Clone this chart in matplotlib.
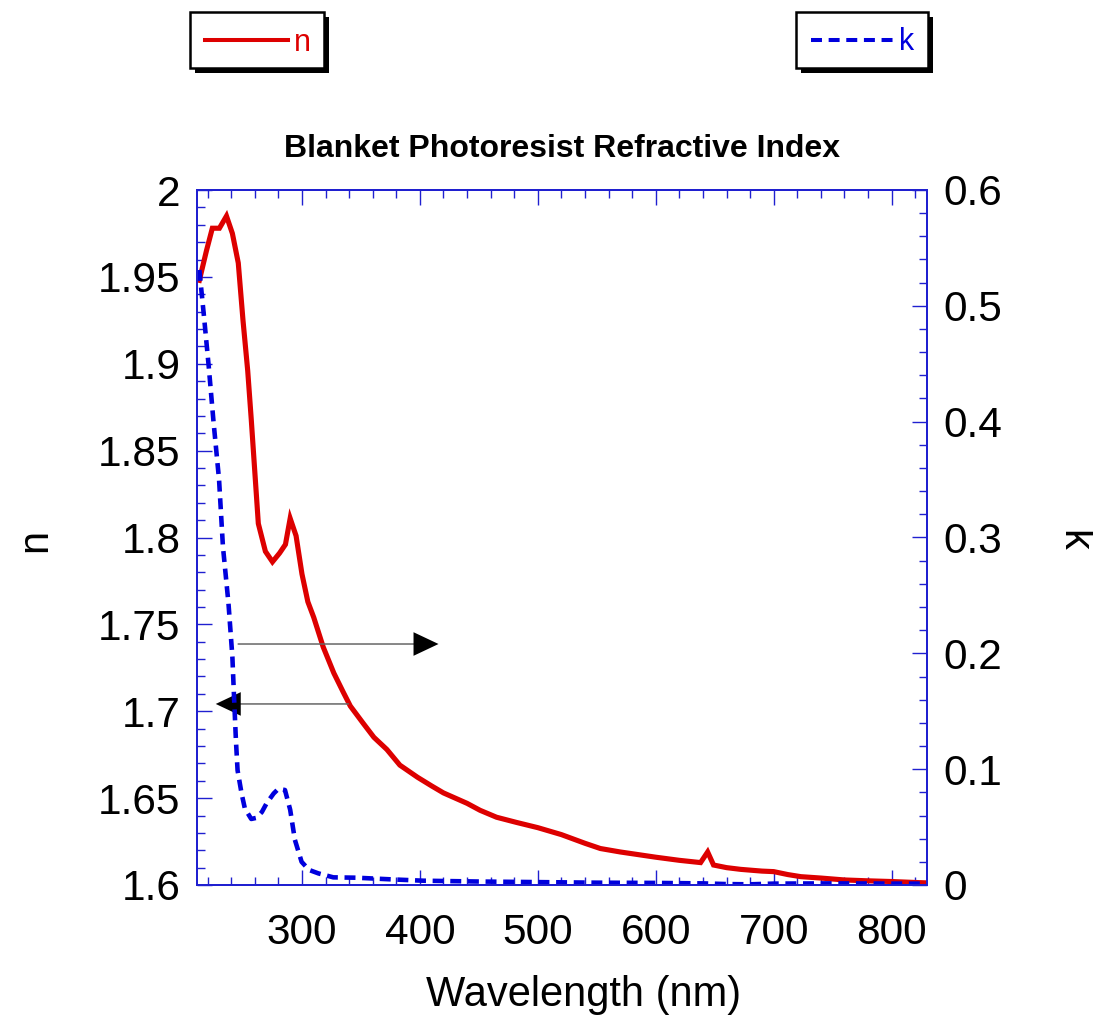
import matplotlib
matplotlib.use("Agg")
import matplotlib.pyplot as plt
from matplotlib.patches import Rectangle, FancyArrowPatch
from matplotlib.lines import Line2D
from matplotlib.ticker import MultipleLocator, FuncFormatter

plt.rcParams.update({"font.family": ["Liberation Sans", "DejaVu Sans"],
                     "lines.scale_dashes": False})

# n (refractive index), left axis
wl_n = [213, 219, 224, 230, 236, 241, 246, 250, 254, 257, 260, 263, 269, 275, 281, 286,
        290, 295, 300, 305, 310, 318, 327, 335, 341, 352, 361, 372, 383, 398, 410, 420,
        430, 440, 451, 465, 482, 500, 520, 540, 553, 570, 585, 600, 620, 638, 644, 649,
        660, 672, 690, 700, 712, 723, 740, 760, 780, 800, 822, 830]
n_val = [1.948, 1.965, 1.978, 1.978, 1.985, 1.975, 1.958, 1.925, 1.896, 1.868, 1.838, 1.808,
         1.792, 1.786, 1.791, 1.796, 1.811, 1.801, 1.779, 1.763, 1.754, 1.737, 1.722, 1.711,
         1.703, 1.693, 1.685, 1.678, 1.669, 1.662, 1.657, 1.653, 1.650, 1.647, 1.643, 1.639,
         1.636, 1.633, 1.629, 1.624, 1.621, 1.619, 1.6175, 1.616, 1.6142, 1.6129, 1.619,
         1.6115, 1.610, 1.609, 1.608, 1.6077, 1.606, 1.6048, 1.604, 1.6029, 1.6024, 1.602,
         1.6014, 1.6012]

# k (extinction coefficient), right axis
wl_k = [213, 217, 221, 225, 229.7, 233, 237.7, 241, 242.5, 244, 245.4, 248.8, 251.6, 257,
        261.5, 266, 270, 276, 280, 285.6, 290, 294, 299.7, 306, 314, 326.6, 346, 375, 403,
        450, 500, 550, 600, 640, 660, 680, 700, 750, 800, 830]
k_val = [0.531, 0.49, 0.447, 0.40, 0.350, 0.292, 0.243, 0.197, 0.160, 0.125, 0.099, 0.079,
         0.066, 0.057, 0.058, 0.063, 0.0705, 0.079, 0.083, 0.082, 0.065, 0.039, 0.020, 0.013,
         0.010, 0.0066, 0.0063, 0.0049, 0.0037, 0.003, 0.0025, 0.002, 0.0018, 0.0014, 0.0008,
         0.0006, 0.0012, 0.0014, 0.0012, 0.0012]

RED, BLUE, AX_C = "#dd0000", "#0000dd", "#2020d0"
W, H = 1093, 1016

fig = plt.figure(figsize=(W / 100, H / 100), dpi=100)
ax = fig.add_axes([197 / W, 1 - 885 / H, 730 / W, 695 / H])
ax2 = ax.twinx()

ax.plot(wl_n, n_val, color=RED, lw=3.7, solid_joinstyle="miter")
ax2.plot(wl_k, k_val, color=BLUE, lw=3.3, dashes=(7.9, 4.8), dash_capstyle="butt")

ax.set_xlim(211, 830)
ax.set_ylim(1.6, 2.0)
ax2.set_ylim(0, 0.6)

ax.xaxis.set_major_locator(MultipleLocator(100))
ax.xaxis.set_minor_locator(MultipleLocator(20))
ax.yaxis.set_major_locator(MultipleLocator(0.05))
ax.yaxis.set_minor_locator(MultipleLocator(0.01))
ax2.yaxis.set_major_locator(MultipleLocator(0.1))
ax2.yaxis.set_minor_locator(MultipleLocator(0.02))
fmt = FuncFormatter(lambda v, p: f"{round(v, 3):g}")
ax.yaxis.set_major_formatter(fmt)
ax2.yaxis.set_major_formatter(fmt)

for a in (ax, ax2):
    for s in a.spines.values():
        s.set_color(AX_C)
        s.set_linewidth(1.4)
ax.tick_params(which="both", direction="in", top=True, right=False, color=AX_C,
               width=1.0, labelsize=30.5, pad=12)
ax.tick_params(which="major", length=10.5)
ax.tick_params(which="minor", length=5.5)
ax.tick_params(axis="x", pad=20)
ax2.tick_params(which="both", direction="in", color=AX_C, width=1.0, labelsize=30.5, pad=12)
ax2.tick_params(which="major", length=10.5)
ax2.tick_params(which="minor", length=5.5)

ax.set_xlabel("Wavelength (nm)", fontsize=30, va="center")
ax.xaxis.set_label_coords(0.53, -0.158)
ax.set_ylabel("n", fontsize=30, rotation=90, va="center", ha="center")
ax.yaxis.set_label_coords(-0.222, 0.496)
ax2.set_ylabel("k", fontsize=30, rotation=-90, va="center", ha="center")
ax2.yaxis.set_label_coords(1.2, 0.496)
ax.set_title("Blanket Photoresist Refractive Index", fontsize=23, fontweight="bold",
             pad=24)

# arrows pointing to each curve's axis: thin gray shaft, black triangular head
HEAD = 21  # head length in nm
for (x0, x1, y) in [(245.9, 415.8, 1.7387), (339.3, 226.9, 1.7042)]:
    d = 1 if x1 > x0 else -1
    ax.add_patch(FancyArrowPatch((x0, y), (x1 - d * HEAD * 0.8, y), arrowstyle="-",
                 lw=1.1, color="#666666", shrinkA=0, shrinkB=0, zorder=3))
    ax.add_patch(FancyArrowPatch((x1 - d * HEAD, y), (x1, y),
                 arrowstyle="-|>,head_length=18,head_width=8.5",
                 mutation_scale=1, lw=0, color="black", shrinkA=0, shrinkB=0, zorder=3))


def fx(x):
    return x / W


def fy(y):
    return 1 - y / H


def legend_box(x0, x1, y0, y1):
    fig.add_artist(Rectangle((fx(x0 + 5), fy(y1 + 5)), (x1 - x0) / W, (y1 - y0) / H,
                             transform=fig.transFigure, facecolor="black", edgecolor="black",
                             lw=0))
    fig.add_artist(Rectangle((fx(x0), fy(y1)), (x1 - x0) / W, (y1 - y0) / H,
                             transform=fig.transFigure, facecolor="white", edgecolor="black",
                             lw=1.8))


legend_box(190, 324, 12.5, 67.5)
fig.add_artist(Line2D([fx(205), fx(288)], [fy(40.3)] * 2, transform=fig.transFigure,
                      color=RED, lw=2.9))
fig.text(fx(302), fy(43), "n", color=RED, fontsize=22, ha="center", va="center")

legend_box(796, 928, 12.5, 68)
fig.add_artist(Line2D([fx(811), fx(894)], [fy(40.3)] * 2, transform=fig.transFigure,
                      color=BLUE, lw=2.9, dashes=(7.9, 4.8), dash_capstyle="butt"))
fig.text(fx(907), fy(42), "k", color=BLUE, fontsize=22, ha="center", va="center")

fig.savefig("out.png", dpi=100)
